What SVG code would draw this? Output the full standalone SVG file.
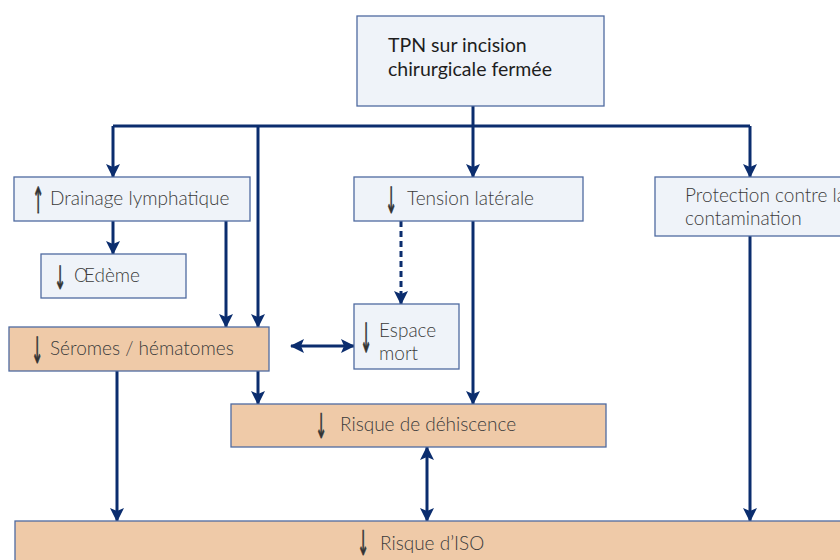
<svg xmlns="http://www.w3.org/2000/svg" width="840" height="560" viewBox="0 0 840 560">
<defs>
<marker id="ah" markerUnits="userSpaceOnUse" markerWidth="14" markerHeight="14" viewBox="0 0 14 14" refX="13" refY="7" orient="auto-start-reverse">
<path d="M0,0 L14,7 L0,14 L3,7 z" fill="#0b2d6e"/>
</marker>
</defs>
<style>
.box{fill:#eff3f9;stroke:#4f6aa0;stroke-width:1.3}
.obox{fill:#efcaa8;stroke:#4f6aa0;stroke-width:1.3}
.t{font-family:Lato,"Open Sans",sans-serif;font-size:19px;font-weight:300;fill:#3b3b3b}
.tt{font-family:Lato,"Open Sans",sans-serif;font-size:19.5px;font-weight:400;fill:#1e1e1e}
.ar{font-family:"DejaVu Sans",sans-serif;font-size:20px;font-weight:400;fill:#333333;stroke:#333333;stroke-width:0.5;text-anchor:middle}
.c{fill:none;stroke:#0b2d6e;stroke-width:3}
</style>
<rect width="840" height="560" fill="#ffffff"/>
<g id="connectors">
<path class="c" d="M473,106 V177" marker-end="url(#ah)"/>
<path class="c" d="M113,126 H750"/>
<path class="c" d="M113,126 V177" marker-end="url(#ah)"/>
<path class="c" d="M258,126 V327" marker-end="url(#ah)"/>
<path class="c" d="M750,126 V177" marker-end="url(#ah)"/>
<path class="c" d="M113,221 V254" marker-end="url(#ah)"/>
<path class="c" d="M226,221 V327" marker-end="url(#ah)"/>
<path class="c" d="M401,221 V304" stroke-dasharray="6,4" marker-end="url(#ah)"/>
<path class="c" d="M473,221 V404" marker-end="url(#ah)"/>
<path class="c" d="M291,346 H354" marker-start="url(#ah)" marker-end="url(#ah)"/>
<path class="c" d="M117,371 V521" marker-end="url(#ah)"/>
<path class="c" d="M258,371 V404" marker-end="url(#ah)"/>
<path class="c" d="M427,447 V521" marker-start="url(#ah)" marker-end="url(#ah)"/>
<path class="c" d="M750,236 V521" marker-end="url(#ah)"/>
</g>
<g id="tpn">
<rect class="box" x="357" y="16" width="247" height="90"/>
<text class="tt" x="388" y="52">TPN sur incision</text>
<text class="tt" x="388" y="76">chirurgicale fermée</text>
</g>
<g id="drainage">
<rect class="box" x="14" y="177" width="236" height="44"/>
<text class="ar" transform="translate(38,213) scale(0.7,1.8)">↑</text>
<text class="t" x="50" y="205">Drainage lymphatique</text>
</g>
<g id="oedeme">
<rect class="box" x="41" y="254" width="145" height="44"/>
<text class="ar" transform="translate(60,289) scale(0.7,1.6)">↓</text>
<text class="t" x="74" y="282">Œdème</text>
</g>
<g id="tension">
<rect class="box" x="354" y="177" width="229" height="44"/>
<text class="ar" transform="translate(391,213) scale(0.7,1.8)">↓</text>
<text class="t" x="407" y="205">Tension latérale</text>
</g>
<g id="protection">
<rect class="box" x="655" y="177" width="200" height="59"/>
<text class="t" x="685" y="202">Protection contre la</text>
<text class="t" x="685" y="225">contamination</text>
</g>
<g id="seromes">
<rect class="obox" x="9" y="327" width="260" height="44"/>
<text class="ar" transform="translate(37,363) scale(0.7,1.8)">↓</text>
<text class="t" x="50" y="355">Séromes / hématomes</text>
</g>
<g id="espace">
<rect class="box" x="354" y="304" width="105" height="65"/>
<text class="ar" transform="translate(366,352) scale(0.7,2)">↓</text>
<text class="t" x="379" y="337">Espace</text>
<text class="t" x="379" y="360">mort</text>
</g>
<g id="dehiscence">
<rect class="obox" x="231" y="404" width="375" height="43"/>
<text class="ar" transform="translate(321,438) scale(0.7,1.7)">↓</text>
<text class="t" x="340" y="431">Risque de déhiscence</text>
</g>
<g id="iso">
<rect class="obox" x="15" y="521" width="840" height="50"/>
<text class="ar" transform="translate(363,555) scale(0.7,1.7)">↓</text>
<text class="t" x="380" y="550">Risque d’ISO</text>
</g>
</svg>
